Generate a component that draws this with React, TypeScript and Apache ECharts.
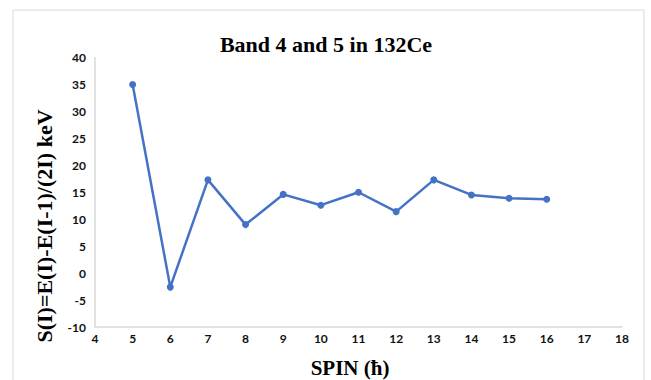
import React, { useEffect, useRef } from "react";
import * as echarts from "echarts";

const spins = [5, 6, 7, 8, 9, 10, 11, 12, 13, 14, 15, 16];
const sValues = [35.0, -2.6, 17.3, 9.0, 14.6, 12.6, 15.0, 11.4, 17.3, 14.5, 13.9, 13.7];
const titleText = "Band 4 and 5 in 132Ce";
const xName = "SPIN (ħ)";
const yName = "S(I)=E(I)-E(I-1)/(2I) keV";

export default function App() {
  const ref = useRef<HTMLDivElement>(null);
  useEffect(() => {
    if (!ref.current) return;
    const chart = echarts.init(ref.current, null, { renderer: "svg" });
    const serif = '"Liberation Serif", "Times New Roman", serif';
    chart.setOption({
      animation: false,
      backgroundColor: "#ffffff",
      grid: { left: 95, right: 29, top: 57.5, bottom: 53 },
      xAxis: {
        type: "value",
        min: 4,
        max: 18,
        interval: 1,
        splitLine: { show: false },
        axisLine: { show: true, onZero: false, lineStyle: { color: "#d9d9d9", width: 1.5 } },
        axisTick: { show: false },
        axisLabel: {
          margin: 5,
          color: "#111111",
          fontFamily: "Lato",
          fontWeight: "bold",
          fontSize: 12,
        },
      },
      yAxis: {
        type: "value",
        min: -10,
        max: 40,
        interval: 5,
        splitLine: { show: false },
        axisLine: { show: true, onZero: false, lineStyle: { color: "#d9d9d9", width: 1.5 } },
        axisTick: { show: false },
        axisLabel: {
          margin: 9,
          color: "#111111",
          fontFamily: "Lato",
          fontWeight: "bold",
          fontSize: 12,
        },
      },
      series: [
        {
          type: "line",
          data: spins.map((s, i) => [s, sValues[i]]),
          symbol: "circle",
          symbolSize: 7,
          lineStyle: { color: "#4472C4", width: 2.5 },
          itemStyle: { color: "#4472C4" },
        },
      ],
      graphic: [
        {
          type: "rect",
          shape: { x: 13, y: 10, width: 631, height: 390 },
          style: { fill: "none", stroke: "#d9d9d9", lineWidth: 1 },
          silent: true,
          z: -1,
        },
        {
          type: "text",
          x: 326,
          y: 44,
          style: {
            text: titleText,
            fontFamily: serif,
            fontWeight: "bold",
            fontSize: 22,
            fill: "#000000",
            textAlign: "center",
            textVerticalAlign: "middle",
          },
        },
        {
          type: "text",
          x: 350,
          y: 368,
          style: {
            text: xName,
            fontFamily: serif,
            fontWeight: "bold",
            fontSize: 21,
            fill: "#000000",
            textAlign: "center",
            textVerticalAlign: "middle",
          },
        },
        {
          type: "text",
          x: 44,
          y: 226,
          rotation: Math.PI / 2,
          style: {
            text: yName,
            fontFamily: serif,
            fontWeight: "bold",
            fontSize: 22,
            fill: "#000000",
            textAlign: "center",
            textVerticalAlign: "middle",
          },
        },
      ],
    });
    return () => chart.dispose();
  }, []);
  return (
    <div
      ref={ref}
      style={{ position: "fixed", left: 0, top: 0, width: 651, height: 380 }}
    />
  );
}
